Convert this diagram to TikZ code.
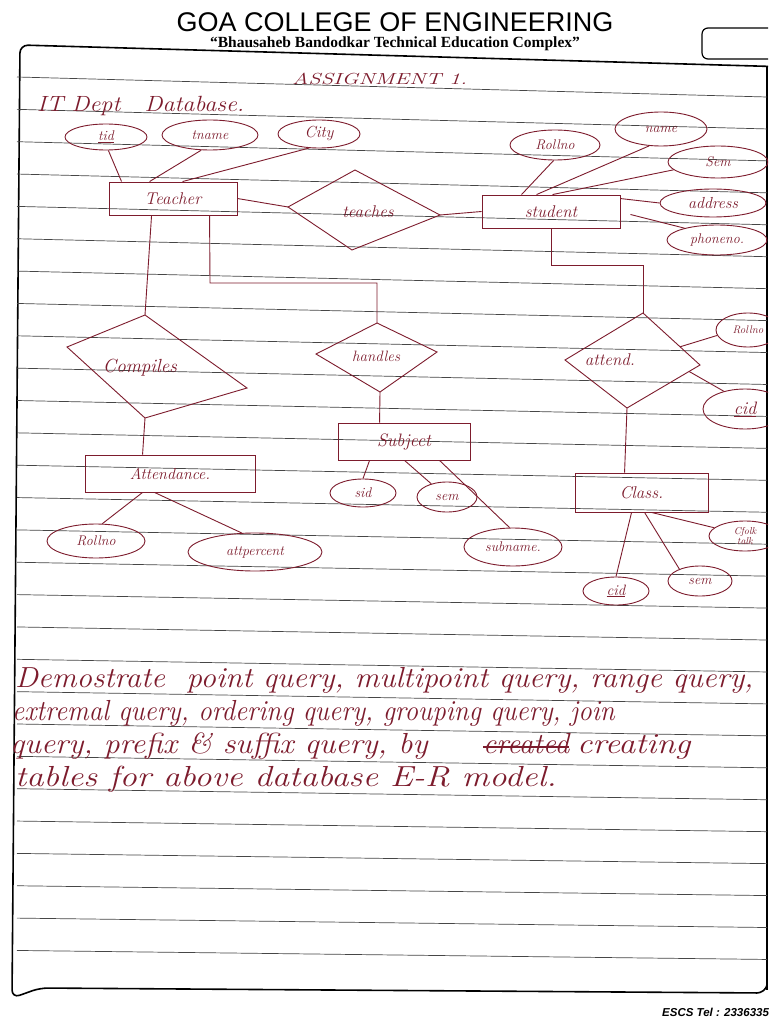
\documentclass[tikz,border=0pt]{standalone}
\usepackage{fontspec}
\newfontfamily\arialf{Liberation Sans}
\newfontfamily\timesf{Liberation Serif}
\usetikzlibrary{shapes.geometric,calc}
\definecolor{inkc}{RGB}{125,28,45}
\definecolor{rulec}{RGB}{70,70,70}
\newcommand\handf{\itshape}
\newcommand\hs[1]{\handf\fontsize{#1}{#1}\selectfont}
\tikzset{
  ink/.style={draw=inkc, line width=0.9pt},
  attr/.style={ellipse, ink, inner sep=0pt, text=inkc, font=\hs{14}},
  ent/.style={rectangle, ink, inner sep=0pt, text=inkc, font=\hs{17}},
  rlab/.style={text=inkc, inner sep=0pt},
  conn/.style={ink},
  ruled/.style={draw=rulec, line width=0.7pt},
  hw/.style={text=inkc, anchor=base west, inner sep=0pt},
  frame/.style={draw=black, line width=1.6pt, rounded corners=8pt}
}
\begin{document}
\begin{tikzpicture}[x=1pt,y=-1pt]
\useasboundingbox (0,0) rectangle (768,1024);
\clip (0,0) rectangle (768,1024);
\fill[white] (0,0) rectangle (768,1024);
% header
\node[anchor=base, inner sep=0pt, font=\arialf\fontsize{27}{27}\selectfont] (title) at (395,32) {GOA COLLEGE OF ENGINEERING};
\node[anchor=base, inner sep=0pt, font=\timesf\bfseries\fontsize{15.5}{15.5}\selectfont] (subtitle) at (395,48) {“Bhausaheb Bandodkar Technical Education Complex”};
\draw[line width=1.2pt, rounded corners=6pt] (790,28) -- (702,28) -- (702,59) -- (790,59);
% page frame
\draw[frame] (790,67) -- (20,45) -- (12,998) -- (40,988) -- (765,993) -- (767,985);
\draw[line width=1.2pt] (767,66) -- (767,990);
% ruled lines
\foreach \k in {0,...,27} {
  \draw[ruled] (17,{77+32.35*\k}) -- (767,{97+32.35*\k-11*\k/27});
}
% headings
\node[hw, font=\hs{16}] (assign) at (292,85) {\scalebox{1.4}[1]{ASSIGNMENT 1.}};
\node[hw, font=\hs{22}] (itdept) at (37,112) {\scalebox{1.1}[1]{IT Dept\quad Database.}};

% ---------------- Teacher
\node[attr, minimum width=82pt, minimum height=26pt] (tid) at (106,137) {\underline{tid}};
\node[attr, minimum width=96pt, minimum height=30pt] (tname) at (210,135) {tname};
\node[attr, minimum width=82pt, minimum height=28pt, font=\hs{16}] (city) at (319,134) {City};
\node[ent, minimum width=128pt, minimum height=33pt] (teacher) at (173,198.5) {Teacher};
\draw[conn] (tid.-80) -- ([xshift=13pt]teacher.north west);
\draw[conn] (tname.-120) -- ([xshift=41pt]teacher.north west);
\draw[conn] (city.-125) -- ([xshift=74pt]teacher.north west);

% teaches
\coordinate (tchL) at (288,207);
\coordinate (tchT) at (355,170);
\coordinate (tchR) at (440,215);
\coordinate (tchB) at (352,250);
\draw[ink] (tchL) -- (tchT) -- (tchR) -- (tchB) -- cycle;
\node[rlab, font=\hs{17}] (teaches) at (368,212) {teaches};
\draw[conn] (teacher.east) -- (tchL);

% ---------------- Student
\node[ent, minimum width=138pt, minimum height=33pt] (student) at (551,211.5) {student};
\draw[conn] (tchR) -- (student.west);
\node[attr, minimum width=90pt, minimum height=30pt] (rollS) at (555,145) {Rollno};
\node[attr, minimum width=92pt, minimum height=34pt] (nameS) at (661,129) {name};
\node[attr, minimum width=100pt, minimum height=32pt] (semT) at (718,162) {Sem};
\node[attr, minimum width=106pt, minimum height=28pt, font=\hs{16}] (addr) at (713,203) {address};
\node[attr, minimum width=100pt, minimum height=30pt] (phone) at (717,240) {phoneno.};
\draw[conn] (rollS.-95) -- ([xshift=40pt]student.north west);
\draw[conn] (nameS.-125) -- ([xshift=55pt]student.north west);
\draw[conn] (semT.190) -- ([xshift=71pt]student.north west);
\draw[conn] ([yshift=-4pt]student.north east) -- (addr.west);
\draw[conn] ([xshift=10pt,yshift=-3pt]student.east) -- (phone.160);

% ---------------- Compiles
\coordinate (cmpL) at (67,347);
\coordinate (cmpT) at (145,315);
\coordinate (cmpR) at (247,388);
\coordinate (cmpB) at (145,418);
\draw[ink] (cmpL) -- (cmpT) -- (cmpR) -- (cmpB) -- cycle;
\node[rlab, font=\hs{19}] (compiles) at (140,368) {Compiles};
\draw[conn] ([xshift=43pt]teacher.south west) -- (cmpT);

% ---------------- handles
\coordinate (hndL) at (316,354);
\coordinate (hndT) at (377,323);
\coordinate (hndR) at (437,352);
\coordinate (hndB) at (380,392);
\draw[ink] (hndL) -- (hndT) -- (hndR) -- (hndB) -- cycle;
\node[rlab, font=\hs{15}] (handles) at (376,356) {handles};
\coordinate (tbend) at (210,283);
\draw[conn] ([xshift=101pt]teacher.south west) -- (tbend) -| (hndT);

% ---------------- attend
\coordinate (atdL) at (565,360);
\coordinate (atdT) at (643,313);
\coordinate (atdR) at (700,365);
\coordinate (atdB) at (627,408);
\draw[ink] (atdL) -- (atdT) -- (atdR) -- (atdB) -- cycle;
\node[rlab, font=\hs{17}] (attend) at (610,360) {attend.};
\coordinate (sbend) at (551,265);
\draw[conn] (student.south) -- (sbend) -| (atdT);

% ---------------- Attendance
\node[ent, minimum width=170pt, minimum height=37pt, font=\hs{16}] (attendance) at (170,473.5) {Attendance.};
\draw[conn] (cmpB) -- ([xshift=58pt]attendance.north west);
\node[attr, minimum width=98pt, minimum height=34pt] (rollA) at (96,541) {Rollno};
\node[attr, minimum width=134pt, minimum height=38pt] (attp) at (255,552) {attpercent};
\draw[conn] ([xshift=58pt]attendance.south west) -- (rollA.70);
\draw[conn] ([xshift=70pt]attendance.south west) -- (attp.125);

% ---------------- Subject
\node[ent, minimum width=132pt, minimum height=37pt, font=\hs{18}] (subject) at (404,441.5) {Subject};
\draw[conn] (hndB) -- ([xshift=42pt]subject.north west);
\node[attr, minimum width=66pt, minimum height=28pt] (sid) at (363,493) {sid};
\node[attr, minimum width=60pt, minimum height=30pt] (semS) at (447,497) {sem};
\node[attr, minimum width=98pt, minimum height=38pt] (subname) at (513,547) {subname.};
\draw[conn] ([xshift=32pt]subject.south west) -- (sid.north);
\draw[conn] ([xshift=67pt]subject.south west) -- (semS.140);
\draw[conn] ([xshift=102pt]subject.south west) -- (subname.100);

% ---------------- Class
\node[ent, minimum width=133pt, minimum height=39pt] (class) at (641.5,492.5) {Class.};
\draw[conn] (atdB) -- ([xshift=50pt]class.north west);
\node[attr, minimum width=64pt, minimum height=34pt, font=\hs{11}] (roll2) at (748,330) {Rollno};
\node[attr, minimum width=84pt, minimum height=40pt, font=\hs{18}] (cid2) at (745,409) {\underline{cid}};
\draw[conn] ($(atdT)!0.65!(atdR)$) -- (roll2.190);
\draw[conn] ($(atdR)!0.15!(atdB)$) -- (cid2.140);
\node[attr, minimum width=66pt, minimum height=28pt, font=\hs{15}] (cid3) at (616,591) {\underline{cid}};
\node[attr, minimum width=64pt, minimum height=30pt] (sem3) at (700,581) {sem};
\node[attr, minimum width=72pt, minimum height=30pt, align=center, font=\hs{10}] (cfolk) at (745,536) {Cfolk\\talk};
\draw[conn] ([xshift=57pt]class.south west) -- (cid3.north);
\draw[conn] ([xshift=70pt]class.south west) -- (sem3.150);
\draw[conn] ([xshift=77pt]class.south west) -- (cfolk.165);

% ---------------- paragraph
\node[hw, font=\hs{29}] (p1) at (15,687) {\scalebox{1.065}[1]{Demostrate\ \ point query, multipoint query, range query,}};
\node[hw, font=\hs{29}] (p2) at (12,720) {\scalebox{0.93}[1]{extremal query, ordering query, grouping query, join}};
\node[hw, font=\hs{29}] (p3a) at (10,753) {\scalebox{1.09}[1]{query, prefix \& suffix query, by}};
\node[hw, font=\hs{29}] (p3b) at (483,753) {\scalebox{1.01}[1]{created}};
\draw[ink, line width=1.4pt] ([yshift=6pt]p3b.base west) -- ([yshift=6pt]p3b.base east);
\node[hw, font=\hs{29}] (p3c) at (577,753) {\scalebox{1.17}[1]{creating}};
\node[hw, font=\hs{29}] (p4) at (15,786) {\scalebox{1.19}[1]{tables for above database E-R model.}};

% footer
\node[anchor=base west, inner sep=0pt, font=\arialf\bfseries\itshape\fontsize{11.5}{11.5}\selectfont] (footer) at (662,1016) {ESCS Tel : 2336335};
\end{tikzpicture}
\end{document}
